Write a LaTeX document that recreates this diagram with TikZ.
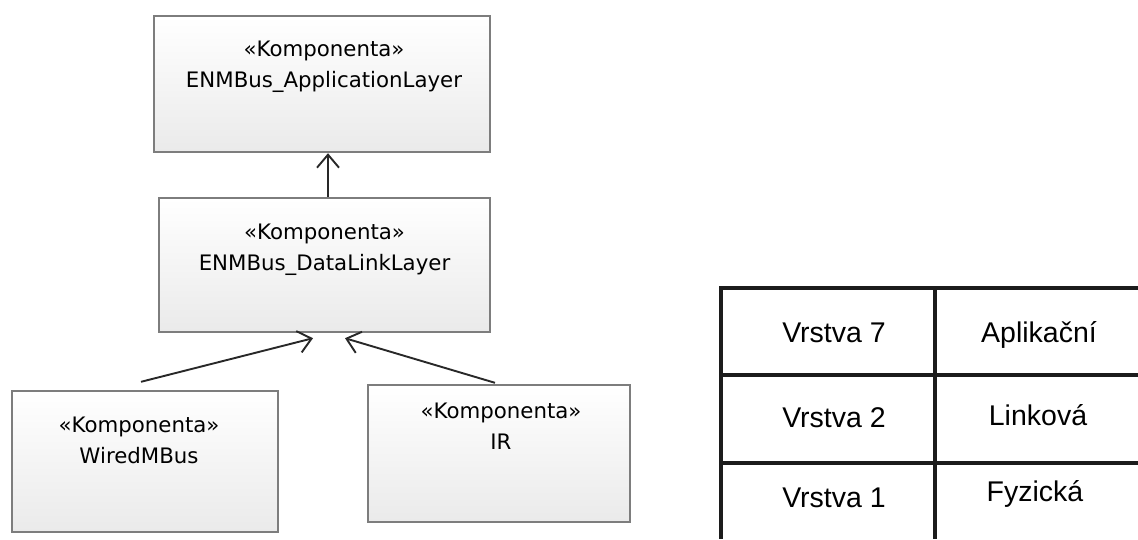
\documentclass[tikz,border=0pt]{standalone}
\usepackage{fontspec}
\usetikzlibrary{arrows.meta,shadows}
\newfontfamily\umlfont{DejaVu Sans}
\newfontfamily\tabfont{Liberation Sans}
\definecolor{boxedge}{RGB}{125,125,125}
\definecolor{boxbottom}{RGB}{234,234,234}
\definecolor{arrowcol}{RGB}{40,40,40}
\definecolor{gridcol}{RGB}{28,28,28}
\tikzset{
  component/.style={rectangle, draw=boxedge, line width=2.4pt,
    top color=white, bottom color=boxbottom, inner sep=0pt,
    drop shadow={shadow xshift=1.2pt, shadow yshift=-1.2pt, opacity=0.25}},
  comptext/.style={anchor=north, align=center, inner sep=0pt,
    font=\umlfont\fontsize{21.3}{30.5}\selectfont, text=black},
  depends/.style={draw=arrowcol, line width=1.9pt,
    -{Straight Barb[length=13pt,width=22pt,line width=1.9pt]}},
  grid/.style={draw=gridcol, line width=3.4pt},
  cell/.style={inner sep=0pt, font=\tabfont\fontsize{28.5}{32}\selectfont, text=black}
}
\begin{document}
\begin{tikzpicture}[x=1pt, y=-1pt]
  \useasboundingbox (0,0) rectangle (1138,539);

  % component boxes
  \node[component, minimum width=336pt, minimum height=136pt] (app) at (322,84) {};
  \node[component, minimum width=331pt, minimum height=134pt] (dll) at (324.5,265) {};
  \node[component, minimum width=266pt, minimum height=141pt] (wired) at (145,461.5) {};
  \node[component, minimum width=262pt, minimum height=137pt] (ir) at (499,453.5) {};

  % component names
  \node[comptext] (appname) at ([xshift=2pt,yshift=-26pt]app.north) {«Komponenta»\\ENMBus\_ApplicationLayer};
  \node[comptext] (dllname) at ([yshift=-27pt]dll.north) {«Komponenta»\\ENMBus\_DataLinkLayer};
  \node[comptext] (wiredname) at ([xshift=-6pt,yshift=-27pt]wired.north) {«Komponenta»\\WiredMBus};
  \node[comptext] (irname) at ([xshift=2pt,yshift=-19pt]ir.north) {«Komponenta»\\IR};

  % dependencies
  \draw[depends] ([xshift=3.5pt]dll.north) -- ([xshift=3.5pt]dll.north |- app.south);
  \draw[depends] ([xshift=-4pt,yshift=8pt]wired.north) -- ([xshift=-11.5pt,yshift=-5pt]dll.south);
  \draw[depends] ([xshift=-4pt,yshift=1pt]ir.north) -- ([xshift=20.5pt,yshift=-5pt]dll.south);

  % layer table
  \draw[grid] (1138,288) -- (721,288) -- (721,539);
  \draw[grid] (935,288) -- (935,539);
  \draw[grid] (721,375) -- (1138,375);
  \draw[grid] (721,463) -- (1138,463);

  \node[cell] (l7) at (834,333) {Vrstva 7};
  \node[cell] (n7) at (1039,335) {Aplikační};
  \node[cell] (l2) at (834,418) {Vrstva 2};
  \node[cell] (n2) at (1038,415) {Linková};
  \node[cell] (l1) at (834,498) {Vrstva 1};
  \node[cell] (n1) at (1035,494) {Fyzická};
\end{tikzpicture}
\end{document}
